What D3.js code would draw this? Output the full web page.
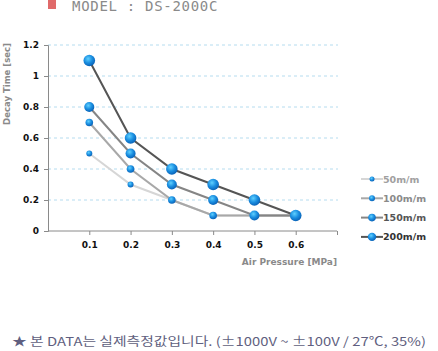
<!DOCTYPE html>
<html>
<head>
<meta charset="utf-8">
<script src="https://cdnjs.cloudflare.com/ajax/libs/d3/7.8.5/d3.min.js"></script>
<style>
  body { margin: 0; background: #fff; }
  svg { display: block; }
</style>
</head>
<body>
<svg id="chart" width="438" height="351"></svg>
<script>
// data
const pressures = [0.1, 0.2, 0.3, 0.4, 0.5, 0.6];
const yTicks = [0, 0.2, 0.4, 0.6, 0.8, 1, 1.2];
const seriesNames = ["50m/m", "100m/m", "150m/m", "200m/m"];
const decay50 = [0.5, 0.3, 0.2, 0.1, 0.1, 0.1];
const decay100 = [0.7, 0.4, 0.2, 0.1, 0.1, 0.1];
const decay150 = [0.8, 0.5, 0.3, 0.2, 0.1, 0.1];
const decay200 = [1.1, 0.6, 0.4, 0.3, 0.2, 0.1];

const seriesValues = [decay50, decay100, decay150, decay200];
const lineColors = ["#d6d6d6", "#a8a8a8", "#858585", "#555555"];
const markerSizes = [3, 3.8, 5, 5.8];
const legendColors = ["#a0a0a0", "#8a8a8a", "#555555", "#333333"];

const svg = d3.select("#chart");

const x = d3.scaleLinear().domain([0, 0.7]).range([48, 337]);
const y = d3.scaleLinear().domain([0, 1.2]).range([231, 45]);

const defs = svg.append("defs");
const grad = defs.append("radialGradient")
    .attr("id", "ball")
    .attr("cx", "40%").attr("cy", "35%").attr("r", "65%");
grad.append("stop").attr("offset", "0%").attr("stop-color", "#5fd0ff");
grad.append("stop").attr("offset", "55%").attr("stop-color", "#1a8ee0");
grad.append("stop").attr("offset", "100%").attr("stop-color", "#0a63b8");

// title
svg.append("rect")
    .attr("x", 48).attr("y", 0)
    .attr("width", 8).attr("height", 9)
    .attr("fill", "#e06a6a");

svg.append("text")
    .attr("x", 72).attr("y", 11)
    .attr("font-family", "DejaVu Sans Mono, monospace")
    .attr("font-size", 14)
    .attr("letter-spacing", 0.7)
    .attr("fill", "#8a8a8a")
    .text("MODEL : DS-2000C");

// grid
svg.append("g")
    .selectAll("line")
    .data(yTicks.filter(function(d) { return d > 0; }))
    .enter()
    .append("line")
    .attr("x1", 48).attr("x2", 338)
    .attr("y1", function(d) { return y(d); })
    .attr("y2", function(d) { return y(d); })
    .attr("stroke", "#b5dcef")
    .attr("stroke-width", 1)
    .attr("stroke-dasharray", "3,3");

// y axis
const yAxis = svg.append("g")
    .attr("transform", "translate(48,0)")
    .call(d3.axisLeft(y).tickValues(yTicks).tickSize(4).tickPadding(5)
        .tickFormat(function(d) { return d3.format("")(+d.toFixed(1)); }));
yAxis.select(".domain").attr("stroke", "#8a8a8a");
yAxis.selectAll(".tick line").attr("stroke", "#8a8a8a");
yAxis.selectAll("text")
    .attr("font-family", "Verdana, DejaVu Sans, sans-serif")
    .attr("font-size", 9)
    .attr("font-weight", "bold")
    .attr("fill", "#111");

// x axis
const xAxis = svg.append("g")
    .attr("transform", "translate(0,231)")
    .call(d3.axisBottom(x).tickValues(pressures.concat([0.7])).tickSize(4).tickPadding(7)
        .tickFormat(function(d) { return d < 0.65 ? d3.format(".1f")(d) : ""; }));
xAxis.select(".domain").attr("stroke", "#8a8a8a").attr("d", "M48,0H337");
xAxis.selectAll(".tick line").attr("stroke", "#8a8a8a");
xAxis.selectAll("text")
    .attr("font-family", "Verdana, DejaVu Sans, sans-serif")
    .attr("font-size", 9)
    .attr("font-weight", "bold")
    .attr("fill", "#111");

// axis titles
svg.append("text")
    .attr("transform", "translate(10,84) rotate(-90)")
    .attr("text-anchor", "middle")
    .attr("font-family", "DejaVu Sans, sans-serif")
    .attr("font-size", 8.5)
    .attr("font-weight", "bold")
    .attr("fill", "#8a8a8a")
    .text("Decay Time [sec]");

svg.append("text")
    .attr("x", 337).attr("y", 265)
    .attr("text-anchor", "end")
    .attr("font-family", "DejaVu Sans, sans-serif")
    .attr("font-size", 9)
    .attr("font-weight", "bold")
    .attr("fill", "#8a8a8a")
    .text("Air Pressure [MPa]");

// series
const line = d3.line()
    .x(function(d, i) { return x(pressures[i]); })
    .y(function(d) { return y(d); });

seriesValues.forEach(function(values, s) {
    svg.append("path")
        .attr("d", line(values))
        .attr("fill", "none")
        .attr("stroke", lineColors[s])
        .attr("stroke-width", 2);
});

seriesValues.forEach(function(values, s) {
    svg.append("g")
        .selectAll("circle")
        .data(values)
        .enter()
        .append("circle")
        .attr("cx", function(d, i) { return x(pressures[i]); })
        .attr("cy", function(d) { return y(d); })
        .attr("r", markerSizes[s])
        .attr("fill", "url(#ball)");
});

// legend
const legend = svg.append("g")
    .selectAll("g")
    .data(seriesNames)
    .enter()
    .append("g")
    .attr("transform", function(d, i) { return "translate(361," + (179 + i * 19.3) + ")"; });

legend.append("line")
    .attr("x1", 0).attr("x2", 22)
    .attr("stroke", function(d, i) { return lineColors[i]; })
    .attr("stroke-width", 2);

legend.append("circle")
    .attr("cx", 11)
    .attr("r", function(d, i) { return [2.5, 3, 3.8, 4.2][i]; })
    .attr("fill", "url(#ball)");

legend.append("text")
    .attr("x", 22).attr("y", 3.5)
    .attr("font-family", "DejaVu Sans, sans-serif")
    .attr("font-size", 9.5)
    .attr("font-weight", "bold")
    .attr("fill", function(d, i) { return legendColors[i]; })
    .text(function(d) { return d; });

// footnote
svg.append("text")
    .attr("x", 12).attr("y", 346)
    .attr("font-family", "Noto Sans CJK KR, sans-serif")
    .attr("font-size", 12)
    .attr("textLength", 414)
    .attr("lengthAdjust", "spacingAndGlyphs")
    .attr("fill", "#5f5f80")
    .text("★ 본 DATA는 실제측정값입니다. (±1000V ~ ±100V / 27℃, 35%)");
</script>
</body>
</html>
